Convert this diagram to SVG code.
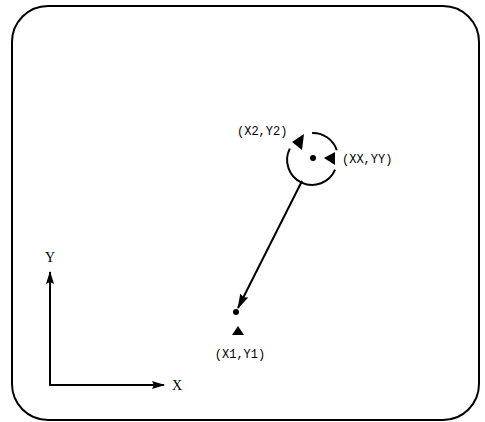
<svg xmlns="http://www.w3.org/2000/svg" width="485" height="422" viewBox="0 0 485 422">
<style>
.ln{fill:none;stroke:#000;stroke-width:2}
.tx{font-family:"Liberation Mono","DejaVu Sans Mono",monospace;font-size:12px;fill:#000}
.ax{font-family:"Liberation Serif","DejaVu Serif",serif;font-size:14px;fill:#000}
</style>
<defs>
<marker id="ah" viewBox="0 0 13 8" refX="12" refY="4" markerWidth="13" markerHeight="8" markerUnits="userSpaceOnUse" orient="auto">
<path d="M0,0 L13,4 L0,8 L2,4 Z" fill="#000"/>
</marker>
<marker id="ah2" viewBox="0 0 15 9" refX="14" refY="4.5" markerWidth="15" markerHeight="9" markerUnits="userSpaceOnUse" orient="auto">
<path d="M0,0 L15,4.5 L0,9 L2,4.5 Z" fill="#000"/>
</marker>
</defs>
<rect x="12" y="6" width="467" height="414" rx="36" ry="36" class="ln"/>
<g id="axes">
<line x1="50" y1="385" x2="50" y2="272" class="ln" marker-end="url(#ah)"/>
<line x1="49" y1="385" x2="164" y2="385" class="ln" marker-end="url(#ah)"/>
<text x="50" y="262" class="ax" text-anchor="middle">Y</text>
<text x="172" y="390" class="ax">X</text>
</g>
<g id="circle-node">
<path d="M312.1,133 A25,25 0 0 1 336.8,150.3" class="ln"/>
<path d="M335.1,169.7 A25,25 0 1 1 289.8,148.6" class="ln"/>
<circle cx="313" cy="158" r="3" fill="#000"/>
<polygon points="292,142 304,134 302,150" fill="#000"/>
<polygon points="324,158 335,152 335,165" fill="#000"/>
<text x="237" y="135" class="tx">(X2,Y2)</text>
<text x="342" y="163" class="tx">(XX,YY)</text>
</g>
<g id="target-node">
<circle cx="236" cy="312" r="3" fill="#000"/>
<polygon points="238,326 232,335 244,335" fill="#000"/>
<text x="240" y="358" class="tx" text-anchor="middle">(X1,Y1)</text>
</g>
<g id="connectors">
<line x1="302" y1="181" x2="238" y2="308" class="ln" marker-end="url(#ah2)"/>
</g>
</svg>
